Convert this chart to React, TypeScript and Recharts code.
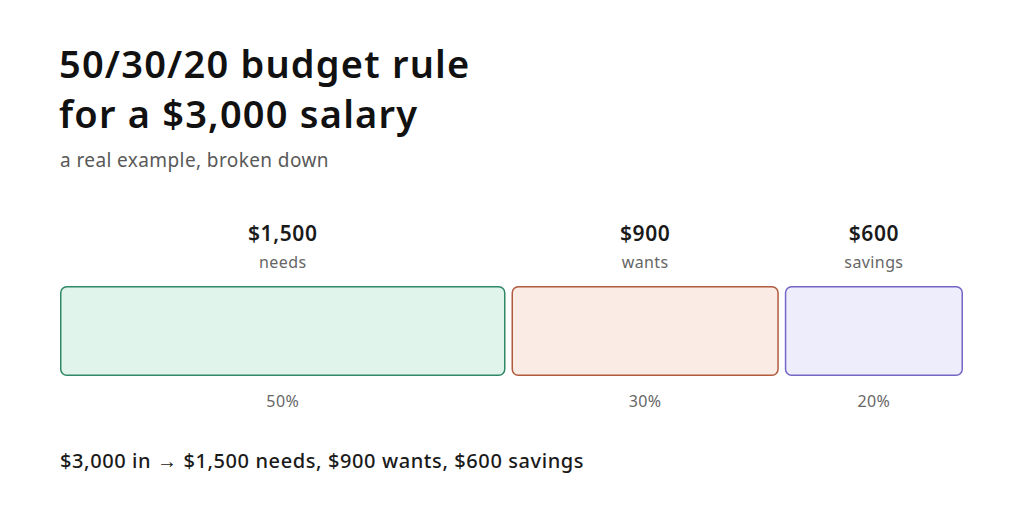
import React from 'react';
import { BarChart, Bar, XAxis, YAxis, LabelList } from 'recharts';

// chart values
const categories = ['needs', 'wants', 'savings'];
const amounts = [1500, 900, 600];
const percents = ['50%', '30%', '20%'];
const amountLabels = ['$1,500', '$900', '$600'];
const salary = 3000;

const fills = ['#e1f4ec', '#fbebe5', '#eeedfc'];
const strokes = ['#2f8866', '#b05b3d', '#7465c7'];

const FONT = '"Noto Sans", "Open Sans", sans-serif';
const W = 1024;
const H = 512;
const LEFT = 60;
const RIGHT = 61;
const PLOT_W = W - LEFT - RIGHT;
const GAP = 6;
const K = (PLOT_W - GAP * (categories.length - 1)) / PLOT_W;

const row: Record<string, number | string> = { name: 'salary' };
categories.forEach((c, i) => {
  row[c] = amounts[i];
});
const data = [row];

// squeeze the stacked segments so there is a small gap between them
const shift = (x: number, i: number) => LEFT + (x - LEFT) * K + i * GAP;

const makeShape = (i: number) => (props: any) => {
  const { x, y, width, height } = props;
  const nx = shift(x, i);
  const nw = width * K;
  return (
    <rect
      x={nx + 0.75}
      y={y + 0.75}
      width={nw - 1.5}
      height={height - 1.5}
      rx={6}
      ry={6}
      fill={fills[i]}
      stroke={strokes[i]}
      strokeWidth={1.5}
    />
  );
};

const makeLabel = (i: number) => (props: any) => {
  const { x, y, width, height } = props;
  const cx = shift(x + width / 2, i);
  return (
    <g style={{ fontFamily: FONT }}>
      <text x={cx} y={y - 45} textAnchor="middle" fontSize={21} fontWeight={600} fill="#1a1a1a" letterSpacing={0.6}>
        {amountLabels[i]}
      </text>
      <text x={cx} y={y - 18} textAnchor="middle" fontSize={16} fill="#666" letterSpacing={0.4}>
        {categories[i]}
      </text>
      <text x={cx} y={y + height + 31} textAnchor="middle" fontSize={16} fill="#666" letterSpacing={0.4}>
        {percents[i]}
      </text>
    </g>
  );
};

export default function App() {
  return (
    <div
      style={{
        position: 'absolute',
        left: 0,
        top: 0,
        width: W,
        height: H,
        background: '#fff',
        fontFamily: FONT,
      }}
    >
      <div
        style={{
          position: 'absolute',
          left: 59,
          top: 38,
          fontSize: 38,
          fontWeight: 600,
          lineHeight: '50px',
          letterSpacing: 1.2,
          color: '#111',
        }}
      >
        50/30/20 budget rule
        <br />
        for a $3,000 salary
      </div>
      <div style={{ position: 'absolute', left: 60, top: 147, fontSize: 19, letterSpacing: 0.4, color: '#595959' }}>
        a real example, broken down
      </div>

      <BarChart
        width={W}
        height={H}
        data={data}
        layout="vertical"
        margin={{ top: 286, right: RIGHT, bottom: 136, left: LEFT }}
        barCategoryGap={0}
      >
        <XAxis type="number" hide domain={[0, salary]} />
        <YAxis type="category" dataKey="name" hide />
        {categories.map((c, i) => (
          <Bar key={c} dataKey={c} stackId="a" shape={makeShape(i)} isAnimationActive={false}>
            <LabelList dataKey={c} content={makeLabel(i)} />
          </Bar>
        ))}
      </BarChart>

      <div
        style={{
          position: 'absolute',
          left: 60,
          top: 447,
          fontSize: 20,
          fontWeight: 500,
          letterSpacing: 0.6,
          color: '#1a1a1a',
        }}
      >
        $3,000 in → $1,500 needs, $900 wants, $600 savings
      </div>
    </div>
  );
}
